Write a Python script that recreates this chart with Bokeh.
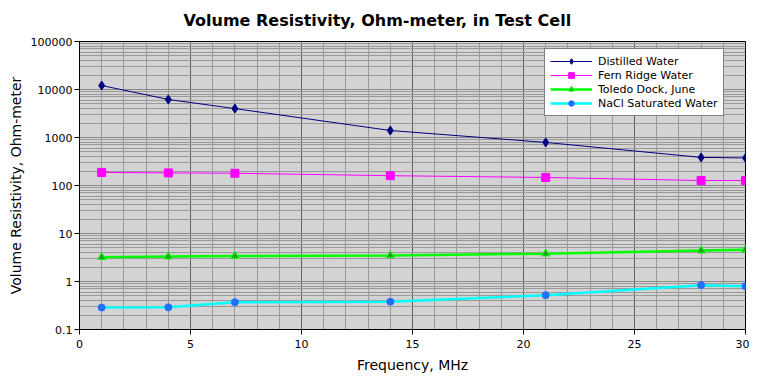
from bokeh.plotting import figure
from bokeh.models import FixedTicker, Legend, LegendItem, Range1d
from bokeh.embed import file_html
from bokeh.resources import INLINE

freq = [1, 4, 7, 14, 21, 28, 30]
distilled = [12100, 6200, 4000, 1400, 790, 385, 375]
fern_ridge = [187, 183, 180, 160, 147, 127, 127]
toledo = [3.2, 3.3, 3.4, 3.5, 3.8, 4.4, 4.6]
nacl = [0.287, 0.29, 0.37, 0.38, 0.52, 0.84, 0.80]

y_ticks = [0.1, 1, 10, 100, 1000, 10000, 100000]
y_tick_labels = ["0.1", "1", "10", "100", "1000", "10000", "100000"]
x_ticks = [0, 5, 10, 15, 20, 25, 30]

y_minor = [m * d for d in [0.1, 1, 10, 100, 1000, 10000] for m in range(2, 10)]
x_minor = list(range(0, 31))

p = figure(width=749, height=375, output_backend="svg", toolbar_location=None,
           y_axis_type="log", x_range=Range1d(0, 30), y_range=Range1d(0.1, 100000),
           min_border_left=79, min_border_right=4, min_border_top=41, min_border_bottom=46)

p.title.text = "Volume Resistivity, Ohm-meter, in Test Cell"
p.title.align = "left"
p.title.offset = 104
p.title.vertical_align = "top"
p.title.standoff = 20
p.title.text_font = "DejaVu Sans"
p.title.text_font_size = "16px"
p.title.text_font_style = "bold"
p.title.text_color = "black"

p.background_fill_color = "#d3d3d3"
p.border_fill_color = "white"
p.outline_line_color = "black"
p.outline_line_width = 1

p.xaxis.ticker = FixedTicker(ticks=x_ticks, minor_ticks=x_minor)
p.yaxis.ticker = FixedTicker(ticks=y_ticks, minor_ticks=y_minor)
p.yaxis.major_label_overrides = {t: l for t, l in zip(y_ticks, y_tick_labels)}

for ax in (p.xaxis, p.yaxis):
    ax.major_label_text_font = "DejaVu Sans"
    ax.major_label_text_font_size = "11px"
    ax.major_label_text_color = "black"
    ax.axis_label_text_font = "DejaVu Sans"
    ax.axis_label_text_font_size = "14px"
    ax.axis_label_text_font_style = "normal"
    ax.axis_label_text_color = "black"
    ax.axis_line_color = "black"
    ax.major_tick_line_color = "black"
    ax.major_tick_out = 5
    ax.major_tick_in = 0
    ax.minor_tick_line_color = None

p.xaxis.axis_label = "Frequency, MHz"
p.yaxis.axis_label = "Volume Resistivity, Ohm-meter"
p.xaxis.major_label_standoff = 5
p.xaxis.axis_label_standoff = 6
p.yaxis.major_label_standoff = 2
p.yaxis.axis_label_standoff = 4

p.xgrid.grid_line_color = "#606060"
p.xgrid.grid_line_width = 1
p.xgrid.minor_grid_line_color = "#999999"
p.ygrid.grid_line_color = "#8a8a8a"
p.ygrid.minor_grid_line_color = "#9a9a9a"

r1l = p.line(freq, distilled, line_color="navy", line_width=1)
r1m = p.scatter(freq, distilled, marker="diamond", size=9, fill_color="navy", line_color="navy")
r2l = p.line(freq, fern_ridge, line_color="magenta", line_width=1)
r2m = p.scatter(freq, fern_ridge, marker="square", size=8, fill_color="magenta", line_color="magenta")
r3l = p.line(freq, toledo, line_color="lime", line_width=2.5)
r3m = p.scatter(freq, toledo, marker="triangle", size=8, fill_color="#22a022", line_color="lime")
r4l = p.line(freq, nacl, line_color="cyan", line_width=2.5)
r4m = p.scatter(freq, nacl, marker="circle", size=7, fill_color="#1f70ff", line_color="#1f70ff")

legend = Legend(items=[
    LegendItem(label="Distilled Water", renderers=[r1l, r1m]),
    LegendItem(label="Fern Ridge Water", renderers=[r2l, r2m]),
    LegendItem(label="Toledo Dock, June", renderers=[r3l, r3m]),
    LegendItem(label="NaCl Saturated Water", renderers=[r4l, r4m]),
], location=(465, 213))
legend.label_text_font = "DejaVu Sans"
legend.label_text_font_size = "11px"
legend.label_text_color = "black"
legend.label_height = 14
legend.glyph_height = 14
legend.glyph_width = 42
legend.label_standoff = 6
legend.spacing = 0
legend.padding = 5
legend.margin = 0
legend.border_line_color = "black"
legend.border_line_width = 1
legend.background_fill_color = "white"
legend.background_fill_alpha = 1.0
p.add_layout(legend, "center")

open("out.html", "w").write(file_html(p, INLINE))
